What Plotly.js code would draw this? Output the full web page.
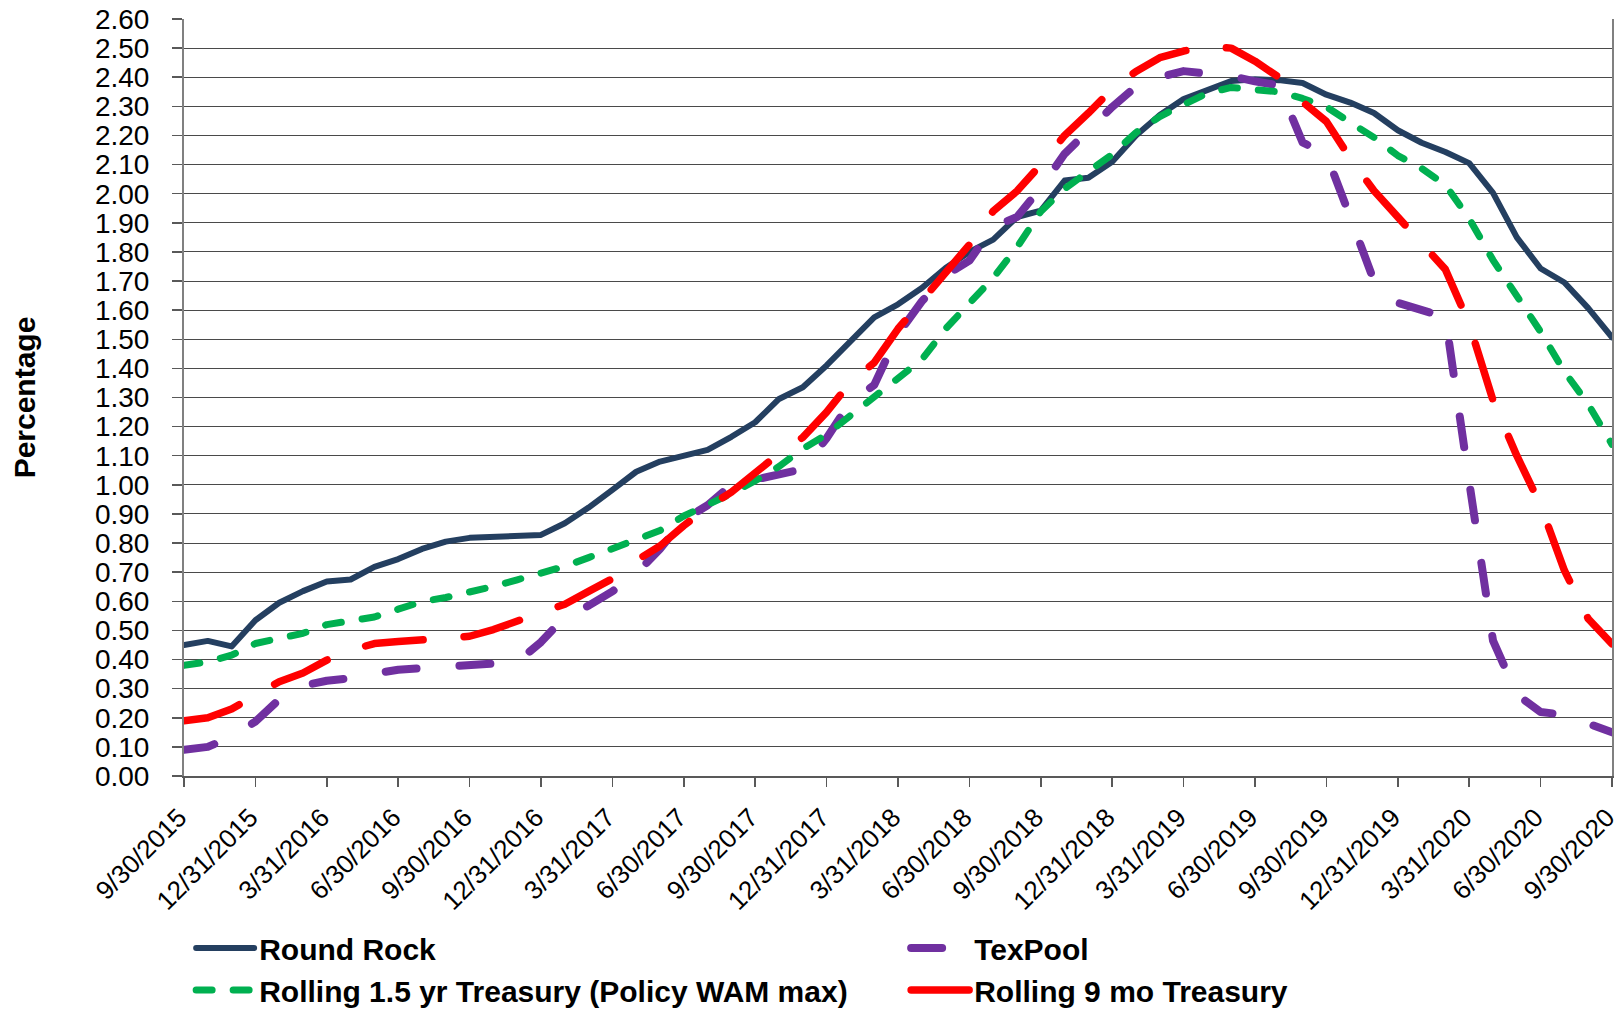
<!DOCTYPE html>
<html><head><meta charset="utf-8">
<script src="https://cdn.plot.ly/plotly-3.0.1.min.js"></script>
<style>
html,body{margin:0;padding:0;background:#fff;}
#chart{width:1622px;height:1009px;}
.js-line{stroke-linecap:round;stroke-linejoin:round;}
</style></head><body><div id="chart"></div>
<script>
const months = ["9/30/2015","10/31/2015","11/30/2015","12/31/2015",
"1/31/2016","2/29/2016","3/31/2016","4/30/2016","5/31/2016","6/30/2016","7/31/2016","8/31/2016","9/30/2016","10/31/2016","11/30/2016","12/31/2016",
"1/31/2017","2/28/2017","3/31/2017","4/30/2017","5/31/2017","6/30/2017","7/31/2017","8/31/2017","9/30/2017","10/31/2017","11/30/2017","12/31/2017",
"1/31/2018","2/28/2018","3/31/2018","4/30/2018","5/31/2018","6/30/2018","7/31/2018","8/31/2018","9/30/2018","10/31/2018","11/30/2018","12/31/2018",
"1/31/2019","2/28/2019","3/31/2019","4/30/2019","5/31/2019","6/30/2019","7/31/2019","8/31/2019","9/30/2019","10/31/2019","11/30/2019","12/31/2019",
"1/31/2020","2/29/2020","3/31/2020","4/30/2020","5/31/2020","6/30/2020","7/31/2020","8/31/2020","9/30/2020"];

const tickLabels = ["9/30/2015","12/31/2015","3/31/2016","6/30/2016","9/30/2016","12/31/2016","3/31/2017","6/30/2017","9/30/2017","12/31/2017","3/31/2018","6/30/2018","9/30/2018","12/31/2018","3/31/2019","6/30/2019","9/30/2019","12/31/2019","3/31/2020","6/30/2020","9/30/2020"];

const roundRock = [0.45,0.464,0.445,0.535,0.595,0.635,0.668,0.675,0.718,0.745,0.78,0.805,0.818,0.82,0.826,0.828,
0.868,0.922,0.983,1.045,1.08,1.10,1.12,1.165,1.215,1.295,1.335,1.41,
1.49,1.575,1.62,1.676,1.745,1.80,1.842,1.92,1.942,2.045,2.055,2.11,
2.20,2.27,2.325,2.354,2.387,2.393,2.39,2.38,2.34,2.313,2.277,2.218,
2.175,2.143,2.105,2.003,1.85,1.743,1.695,1.607,1.507];

const texPool = [0.09,0.10,0.135,0.187,0.263,0.31,0.327,0.336,0.352,0.365,0.37,0.375,0.382,0.385,0.392,0.46,
0.546,0.585,0.634,0.695,0.78,0.88,0.93,1.00,1.02,1.037,1.054,1.16,
1.285,1.343,1.518,1.63,1.72,1.77,1.886,1.92,2.02,2.137,2.219,2.298,
2.368,2.40,2.421,2.41,2.404,2.386,2.372,2.176,2.135,1.92,1.70,1.625,
1.598,1.576,1.01,0.465,0.28,0.22,0.21,0.18,0.15];

const rolling15yr = [0.38,0.392,0.415,0.455,0.473,0.49,0.52,0.532,0.546,0.573,0.599,0.613,0.63,0.651,0.674,0.695,
0.72,0.75,0.783,0.81,0.843,0.893,0.93,0.97,1.014,1.063,1.124,1.173,
1.238,1.303,1.37,1.43,1.536,1.625,1.711,1.816,1.939,2.017,2.075,2.135,
2.21,2.265,2.306,2.345,2.365,2.359,2.35,2.327,2.298,2.245,2.193,2.131,
2.087,2.03,1.914,1.772,1.651,1.526,1.389,1.277,1.139];

const rolling9mo = [0.19,0.20,0.23,0.28,0.324,0.354,0.398,0.432,0.455,0.462,0.468,0.473,0.48,0.503,0.532,0.564,
0.59,0.634,0.678,0.74,0.79,0.86,0.923,0.975,1.045,1.107,1.163,1.25,
1.352,1.42,1.536,1.632,1.737,1.825,1.94,2.009,2.10,2.20,2.277,2.359,
2.42,2.467,2.49,2.507,2.50,2.455,2.40,2.315,2.248,2.122,2.01,1.92,
1.835,1.74,1.553,1.29,1.10,0.93,0.706,0.54,0.454];

const seriesNames = ["Round Rock","TexPool","Rolling 1.5 yr Treasury (Policy WAM max)","Rolling 9 mo Treasury"];

const FONT = "Liberation Sans, Arial, sans-serif";

const traces = [
  {x: months, y: roundRock, name: seriesNames[0], type: "scatter", mode: "lines",
   line: {color: "#243f60", width: 6}},
  {x: months, y: texPool, name: seriesNames[1], type: "scatter", mode: "lines",
   line: {color: "#7030a0", width: 8, dash: "31px,43px"}},
  {x: months, y: rolling15yr, name: seriesNames[2], type: "scatter", mode: "lines",
   line: {color: "#00b050", width: 7, dash: "16px,21px"}},
  {x: months, y: rolling9mo, name: seriesNames[3], type: "scatter", mode: "lines",
   line: {color: "#ff0000", width: 7.5, dash: "58px,41px"}}
];

const layout = {
  width: 1622, height: 1009,
  margin: {l: 184, r: 10, t: 19, b: 233, autoexpand: false},
  paper_bgcolor: "#ffffff", plot_bgcolor: "#ffffff",
  font: {family: FONT, color: "#000000", size: 28},
  showlegend: true,
  legend: {orientation: "h", x: 0.005, xanchor: "left", y: -0.193, yanchor: "top",
    font: {family: FONT, size: 30, weight: "bold", color: "#000"},
    entrywidth: 642, entrywidthmode: "pixels", itemwidth: 58, traceorder: "normal"},
  xaxis: {type: "category", categoryorder: "array", categoryarray: months,
    range: [0, 60], tickmode: "array", tickvals: tickLabels, ticktext: tickLabels,
    tickangle: -45, ticks: "outside", ticklen: 9, tickcolor: "#595959", tickwidth: 1.5,
    showline: true, linecolor: "#595959", linewidth: 2, showgrid: false, zeroline: false,
    automargin: false, ticklabelstandoff: 5, ticklabelshift: -5,
    tickfont: {family: FONT, size: 26, color: "#000"}, fixedrange: true},
  yaxis: {range: [0, 2.6], dtick: 0.1, tick0: 0, tickformat: ".2f",
    ticks: "outside", ticklen: 10, tickcolor: "#595959", tickwidth: 1.5,
    showline: true, mirror: true, linecolor: "#808080", linewidth: 2,
    showgrid: true, gridcolor: "#4a4a4a", gridwidth: 1, zeroline: false,
    ticklabelstandoff: 17, automargin: false,
    tickfont: {family: FONT, size: 28, color: "#000"},
    title: {text: "Percentage", standoff: 50, font: {family: FONT, size: 30, weight: "bold", color: "#000"}},
    fixedrange: true}
};

Plotly.newPlot("chart", traces, layout, {displayModeBar: false, staticPlot: true});
</script></body></html>
